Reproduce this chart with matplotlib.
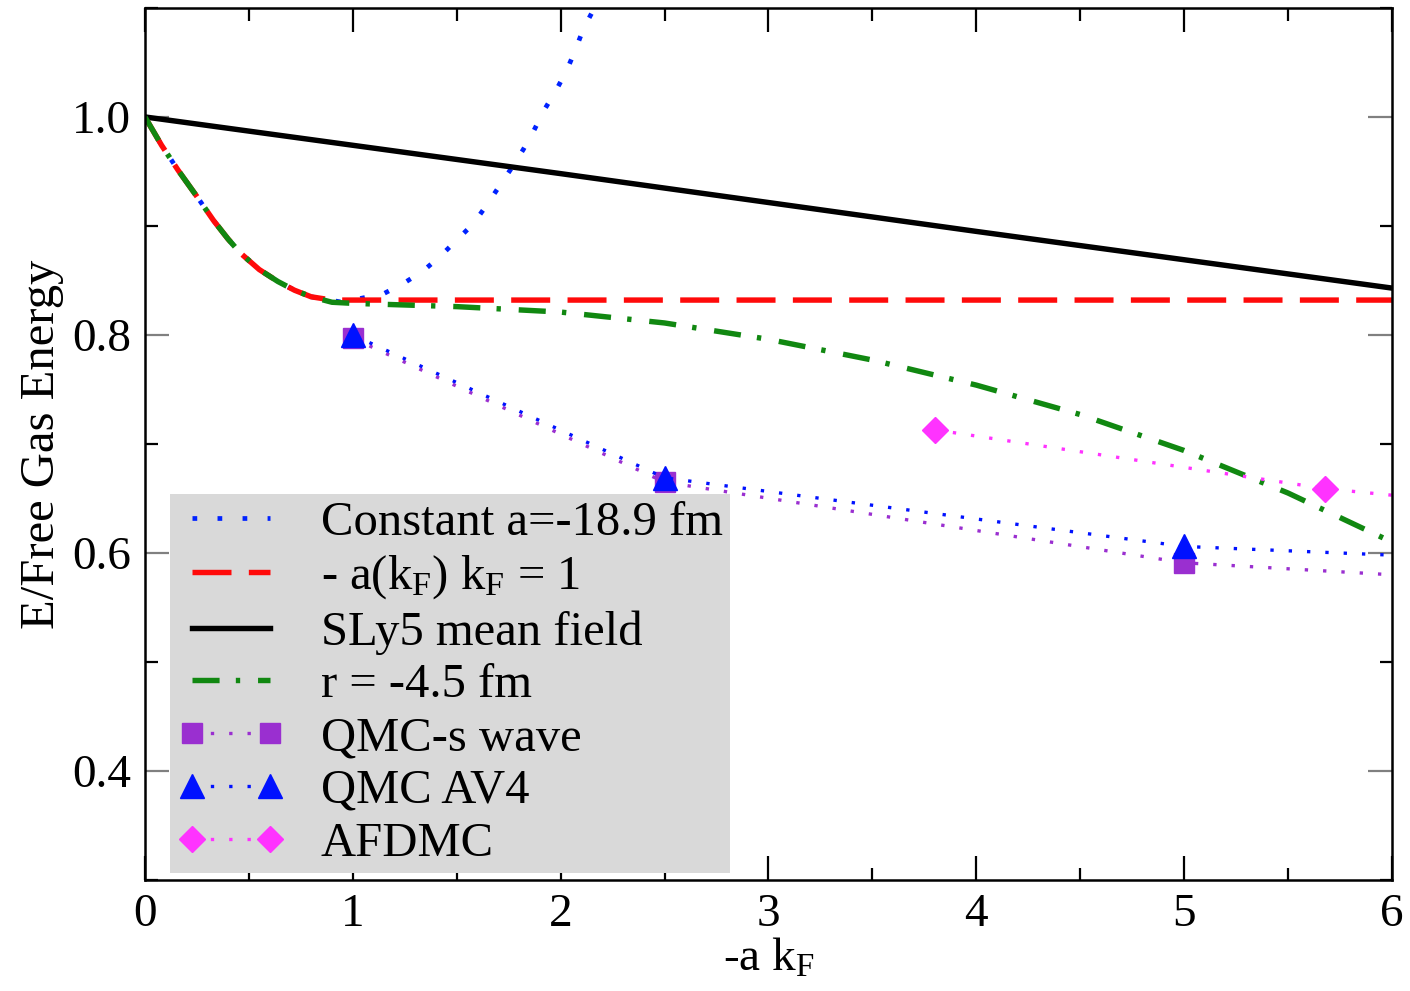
import matplotlib
matplotlib.use("Agg")
import matplotlib.pyplot as plt
import numpy as np

plt.rcParams['font.family'] = ['Liberation Serif', 'DejaVu Serif']
plt.rcParams['mathtext.fontset'] = 'custom'
plt.rcParams['mathtext.rm'] = 'Liberation Serif'
plt.rcParams['mathtext.it'] = 'Liberation Serif:italic'

# shared low-density part of the curves
x_low = [0.0, 0.08, 0.16, 0.25, 0.33, 0.40, 0.46, 0.55, 0.64, 0.72, 0.80, 0.90]
y_low = [1.0, 0.974, 0.951, 0.927, 0.905, 0.888, 0.875, 0.860, 0.849, 0.841, 0.835, 0.832]

# Constant a = -18.9 fm
x_const = x_low[:-1] + [0.95, 1.05, 1.15, 1.25, 1.34, 1.42, 1.50, 1.58, 1.64, 1.70, 1.76, 1.82,
                        1.87, 1.92, 1.98, 2.03, 2.07, 2.11, 2.16, 2.20]
y_const = y_low[:-1] + [0.830, 0.834, 0.838, 0.848, 0.859, 0.872, 0.887, 0.902, 0.918, 0.935, 0.952,
                        0.970, 0.987, 1.006, 1.025, 1.043, 1.061, 1.081, 1.099, 1.115]

# -a(kF) kF = 1
x_unit = x_low + [6.0]
y_unit = y_low + [0.832]

# SLy5 mean field
x_sly = [0.0, 2.0, 4.0, 6.0]
y_sly = [1.0, 0.948, 0.895, 0.843]

# r = -4.5 fm
x_r = x_low[:-1] + [0.9, 1.0, 1.5, 2.0, 2.5, 3.0, 3.5, 4.0, 4.5, 5.0, 5.5, 6.0]
y_r = y_low[:-1] + [0.830, 0.829, 0.826, 0.821, 0.811, 0.796, 0.777, 0.754, 0.727, 0.694, 0.655, 0.610]

# QMC results (last point = where the line leaves the frame)
x_swave = [1.0, 2.5, 5.0, 6.0]
y_swave = [0.797, 0.665, 0.591, 0.580]
x_av4 = [1.0, 2.5, 5.0, 6.0]
y_av4 = [0.800, 0.669, 0.606, 0.598]
x_afdmc = [3.8, 5.68, 6.0]
y_afdmc = [0.713, 0.659, 0.653]

fig = plt.figure(figsize=(14.1, 9.91), dpi=100)
ax = fig.add_axes([0.1028, 0.112, 0.8844, 0.88])

lw = 3.9
ax.plot(x_const, y_const, color='#0022ff', lw=3.4, ls=(0, (1, 4.3)), label='Constant a=-18.9 fm')
ax.plot(x_unit, y_unit, color='#ff0a0a', lw=lw, ls=(0, (7.2, 3.2)), label=r'- a(k$_\mathrm{F}$) k$_\mathrm{F}$ = 1')
ax.plot(x_sly, y_sly, color='black', lw=lw, label='SLy5 mean field')
ax.plot(x_r, y_r, color='#118811', lw=lw, ls=(0, (5.0, 3.0, 0.8, 3.3)), label='r = -4.5 fm')
ax.plot(x_swave, y_swave, color='#9a2fd0', lw=2.4, ls=(0, (1, 4.5)), marker='s', ms=15,
        markevery=[0, 1, 2], label='QMC-s wave')
ax.plot(x_av4, y_av4, color='#0011ff', lw=2.4, ls=(0, (1, 4.5)), marker='^', ms=17,
        markevery=[0, 1, 2], label='QMC AV4')
ax.plot(x_afdmc, y_afdmc, color='#ff33ff', lw=2.4, ls=(0, (1, 4.5)), marker='D', ms=13,
        markevery=[0, 1], label='AFDMC')

ax.set_xlim(0, 6)
ax.set_ylim(0.3, 1.1)
ax.set_xticks(np.arange(0, 7, 1))
ax.set_xticks(np.arange(0.5, 6, 1), minor=True)
ax.set_yticks([0.4, 0.6, 0.8, 1.0])
ax.set_yticklabels(['0.4', '0.6', '0.8', '1.0'])
ax.set_yticks([0.3, 0.5, 0.7, 0.9, 1.1], minor=True)
ax.tick_params(which='both', direction='in', top=True, right=True, labelsize=34, width=1.6)
ax.tick_params(which='major', length=17, pad=10)
ax.tick_params(which='minor', length=9)
ax.tick_params(axis='y', which='major', color='#808080')
for s in ax.spines.values():
    s.set_linewidth(1.8)

ax.set_xlabel(r'-a k$_\mathrm{F}$', fontsize=34, labelpad=1)
ax.set_ylabel('E/Free Gas Energy', fontsize=35, labelpad=6)

leg = ax.legend(loc='lower left', bbox_to_anchor=(0.02, 0.008), borderaxespad=0,
                fontsize=35, frameon=True, fancybox=False, facecolor='#d9d9d9',
                edgecolor='none', framealpha=1, handlelength=2.2, handletextpad=0.75,
                labelspacing=0.18, borderpad=0.15, numpoints=2)

fig.savefig('out.png', dpi=100)
